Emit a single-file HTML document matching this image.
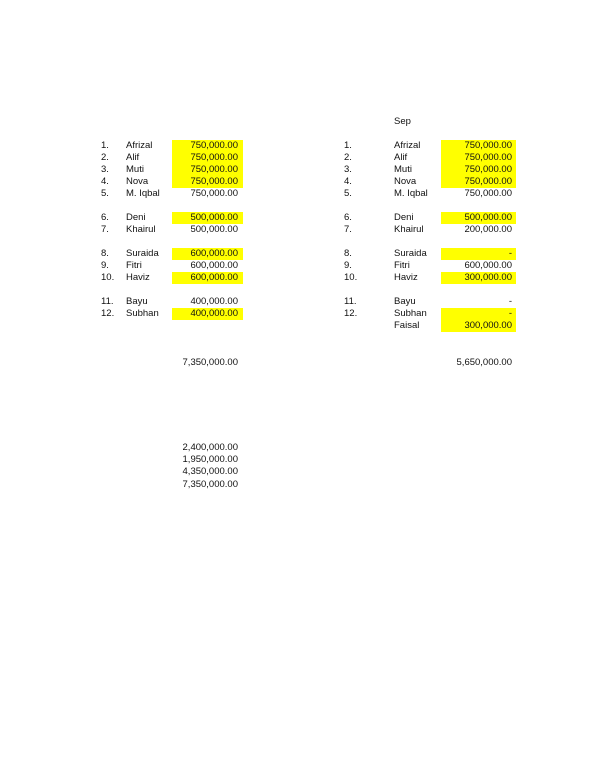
<!DOCTYPE html>
<html><head><style>
body{margin:0;width:600px;height:776px;background:#fff;position:relative;font-family:"Liberation Sans",sans-serif;font-size:9.5px;color:#111;}
.w{position:absolute;left:0;top:2px;width:600px;height:700px;}
.w div{position:absolute;height:12px;line-height:12px;white-space:nowrap;}
.h{background:#ffff00;}
.vl{left:172px;width:66px;padding-right:5px;text-align:right;}
.vr{left:441px;width:71px;padding-right:4px;text-align:right;}
</style></head><body><div class="w">
<div style="left:394px;top:114px">Sep</div>

<div style="left:101px;top:138px">1.</div><div style="left:126px;top:138px">Afrizal</div><div class="vl h" style="top:138px">750,000.00</div>
<div style="left:101px;top:150px">2.</div><div style="left:126px;top:150px">Alif</div><div class="vl h" style="top:150px">750,000.00</div>
<div style="left:101px;top:162px">3.</div><div style="left:126px;top:162px">Muti</div><div class="vl h" style="top:162px">750,000.00</div>
<div style="left:101px;top:174px">4.</div><div style="left:126px;top:174px">Nova</div><div class="vl h" style="top:174px">750,000.00</div>
<div style="left:101px;top:186px">5.</div><div style="left:126px;top:186px">M. Iqbal</div><div class="vl" style="top:186px">750,000.00</div>
<div style="left:101px;top:210px">6.</div><div style="left:126px;top:210px">Deni</div><div class="vl h" style="top:210px">500,000.00</div>
<div style="left:101px;top:222px">7.</div><div style="left:126px;top:222px">Khairul</div><div class="vl" style="top:222px">500,000.00</div>
<div style="left:101px;top:246px">8.</div><div style="left:126px;top:246px">Suraida</div><div class="vl h" style="top:246px">600,000.00</div>
<div style="left:101px;top:258px">9.</div><div style="left:126px;top:258px">Fitri</div><div class="vl" style="top:258px">600,000.00</div>
<div style="left:101px;top:270px">10.</div><div style="left:126px;top:270px">Haviz</div><div class="vl h" style="top:270px">600,000.00</div>
<div style="left:101px;top:294px">11.</div><div style="left:126px;top:294px">Bayu</div><div class="vl" style="top:294px">400,000.00</div>
<div style="left:101px;top:306px">12.</div><div style="left:126px;top:306px">Subhan</div><div class="vl h" style="top:306px">400,000.00</div>
<div class="vl" style="top:355px">7,350,000.00</div>
<div class="vl" style="top:440px">2,400,000.00</div>
<div class="vl" style="top:452px">1,950,000.00</div>
<div class="vl" style="top:464px">4,350,000.00</div>
<div class="vl" style="top:477px">7,350,000.00</div>

<div style="left:344px;top:138px">1.</div><div style="left:394px;top:138px">Afrizal</div><div class="vr h" style="top:138px">750,000.00</div>
<div style="left:344px;top:150px">2.</div><div style="left:394px;top:150px">Alif</div><div class="vr h" style="top:150px">750,000.00</div>
<div style="left:344px;top:162px">3.</div><div style="left:394px;top:162px">Muti</div><div class="vr h" style="top:162px">750,000.00</div>
<div style="left:344px;top:174px">4.</div><div style="left:394px;top:174px">Nova</div><div class="vr h" style="top:174px">750,000.00</div>
<div style="left:344px;top:186px">5.</div><div style="left:394px;top:186px">M. Iqbal</div><div class="vr" style="top:186px">750,000.00</div>
<div style="left:344px;top:210px">6.</div><div style="left:394px;top:210px">Deni</div><div class="vr h" style="top:210px">500,000.00</div>
<div style="left:344px;top:222px">7.</div><div style="left:394px;top:222px">Khairul</div><div class="vr" style="top:222px">200,000.00</div>
<div style="left:344px;top:246px">8.</div><div style="left:394px;top:246px">Suraida</div><div class="vr h" style="top:246px">-</div>
<div style="left:344px;top:258px">9.</div><div style="left:394px;top:258px">Fitri</div><div class="vr" style="top:258px">600,000.00</div>
<div style="left:344px;top:270px">10.</div><div style="left:394px;top:270px">Haviz</div><div class="vr h" style="top:270px">300,000.00</div>
<div style="left:344px;top:294px">11.</div><div style="left:394px;top:294px">Bayu</div><div class="vr" style="top:294px">-</div>
<div style="left:344px;top:306px">12.</div><div style="left:394px;top:306px">Subhan</div><div class="vr h" style="top:306px">-</div>
<div style="left:394px;top:318px">Faisal</div><div class="vr h" style="top:318px">300,000.00</div>
<div class="vr" style="top:355px">5,650,000.00</div>
</div></body></html>
